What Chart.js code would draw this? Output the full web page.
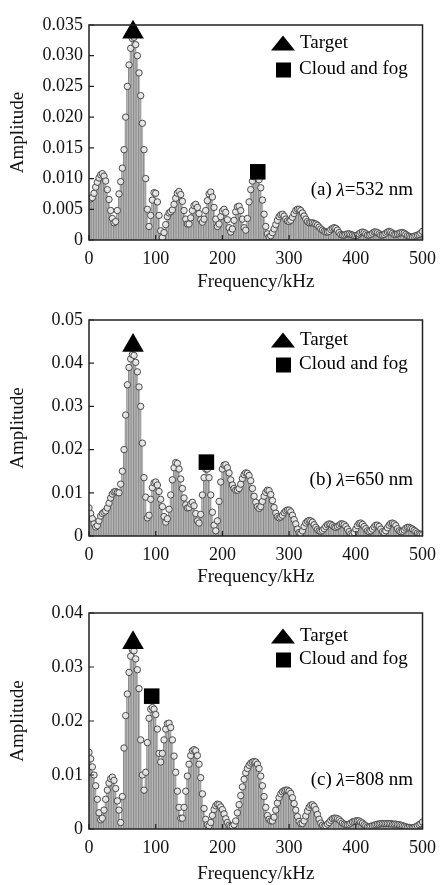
<!DOCTYPE html>
<html>
<head>
<meta charset="utf-8">
<script src="https://cdn.jsdelivr.net/npm/chart.js@4.4.1/dist/chart.umd.min.js"></script>
<style>
  html, body { margin: 0; padding: 0; background: #fff; }
  .panel { position: absolute; left: 0; width: 444px; height: 295px; }
</style>
</head>
<body>
<div class="panel" style="top:0"><canvas id="chartA" width="444" height="295"></canvas></div>
<div class="panel" style="top:295px"><canvas id="chartB" width="444" height="295"></canvas></div>
<div class="panel" style="top:590px"><canvas id="chartC" width="444" height="295"></canvas></div>
<script>
// frequency bins (kHz), one row = 50 kHz
const freqKHz = [
  0,2.5,5,7.5,10,12.5,15,17.5,20,22.5,25,27.5,30,32.5,35,37.5,40,42.5,45,47.5,
  50,52.5,55,57.5,60,62.5,65,67.5,70,72.5,75,77.5,80,82.5,85,87.5,90,92.5,95,97.5,
  100,102.5,105,107.5,110,112.5,115,117.5,120,122.5,125,127.5,130,132.5,135,137.5,140,142.5,145,147.5,
  150,152.5,155,157.5,160,162.5,165,167.5,170,172.5,175,177.5,180,182.5,185,187.5,190,192.5,195,197.5,
  200,202.5,205,207.5,210,212.5,215,217.5,220,222.5,225,227.5,230,232.5,235,237.5,240,242.5,245,247.5,
  250,252.5,255,257.5,260,262.5,265,267.5,270,272.5,275,277.5,280,282.5,285,287.5,290,292.5,295,297.5,
  300,302.5,305,307.5,310,312.5,315,317.5,320,322.5,325,327.5,330,332.5,335,337.5,340,342.5,345,347.5,
  350,352.5,355,357.5,360,362.5,365,367.5,370,372.5,375,377.5,380,382.5,385,387.5,390,392.5,395,397.5,
  400,402.5,405,407.5,410,412.5,415,417.5,420,422.5,425,427.5,430,432.5,435,437.5,440,442.5,445,447.5,
  450,452.5,455,457.5,460,462.5,465,467.5,470,472.5,475,477.5,480,482.5,485,487.5,490,492.5,495,497.5,
  500];

// (a) 532 nm
const ampA = [
  0.0068,0.0067,0.0069,0.0076,0.0086,0.0094,0.0101,0.0106,0.0108,0.0104,0.0096,0.0082,0.0066,0.0048,0.0035,0.0028,0.0030,0.0048,0.0075,0.0095,
  0.0117,0.0147,0.0200,0.0250,0.0285,0.0312,0.0328,0.0330,0.0318,0.0300,0.0272,0.0235,0.0190,0.0147,0.0100,0.0050,0.0022,0.0040,0.0065,0.0077,
  0.0076,0.0062,0.0040,0.0015,0.0004,0.0012,0.0025,0.0038,0.0044,0.0046,0.0049,0.0058,0.0068,0.0076,0.0079,0.0074,0.0063,0.0048,0.0034,0.0026,
  0.0026,0.0036,0.0048,0.0056,0.0058,0.0053,0.0043,0.0033,0.0029,0.0034,0.0048,0.0064,0.0075,0.0078,0.0070,0.0053,0.0034,0.0022,0.0026,0.0038,
  0.0047,0.0050,0.0045,0.0033,0.0020,0.0013,0.0018,0.0032,0.0046,0.0054,0.0055,0.0048,0.0034,0.0020,0.0016,0.0035,0.0062,0.0082,0.0096,0.0103,
  0.0105,0.0104,0.0098,0.0085,0.0065,0.0042,0.0022,0.0010,0.0005,0.0007,0.0012,0.0018,0.0025,0.0032,0.0038,0.0041,0.0042,0.0039,0.0034,0.0031,
  0.0030,0.0032,0.0037,0.0043,0.0048,0.0050,0.0050,0.0048,0.0044,0.0039,0.0034,0.0030,0.0028,0.0028,0.0028,0.0027,0.0026,0.0024,0.0021,0.0018,
  0.0016,0.0014,0.0013,0.0013,0.0014,0.0017,0.0019,0.0020,0.0019,0.0016,0.0012,0.0009,0.0008,0.0008,0.0009,0.0010,0.0010,0.0009,0.0008,0.0007,
  0.0007,0.0008,0.0010,0.0012,0.0013,0.0012,0.0010,0.0008,0.0008,0.0009,0.0011,0.0013,0.0013,0.0012,0.0010,0.0008,0.0008,0.0009,0.0011,0.0013,
  0.0014,0.0013,0.0011,0.0009,0.0009,0.0010,0.0011,0.0012,0.0012,0.0011,0.0009,0.0007,0.0006,0.0005,0.0005,0.0006,0.0007,0.0008,0.0009,0.0011,
  0.0014];

// (b) 650 nm
const ampB = [
  0.0065,0.0052,0.0040,0.0028,0.0021,0.0024,0.0035,0.0046,0.0052,0.0055,0.0058,0.0065,0.0076,0.0088,0.0097,0.0102,0.0103,0.0101,0.0100,0.0120,
  0.0150,0.0200,0.0280,0.0350,0.0390,0.0410,0.0420,0.0418,0.0402,0.0380,0.0345,0.0300,0.0215,0.0135,0.0090,0.0042,0.0048,0.0085,0.0112,0.0123,
  0.0125,0.0118,0.0103,0.0085,0.0068,0.0045,0.0032,0.0040,0.0062,0.0095,0.0130,0.0158,0.0170,0.0168,0.0155,0.0132,0.0110,0.0088,0.0072,0.0065,
  0.0066,0.0074,0.0078,0.0070,0.0052,0.0035,0.0030,0.0050,0.0095,0.0135,0.0155,0.0155,0.0135,0.0095,0.0055,0.0025,0.0012,0.0035,0.0080,0.0125,
  0.0155,0.0164,0.0165,0.0158,0.0146,0.0130,0.0118,0.0110,0.0106,0.0106,0.0110,0.0120,0.0133,0.0142,0.0146,0.0145,0.0140,0.0128,0.0110,0.0092,
  0.0078,0.0068,0.0064,0.0068,0.0080,0.0092,0.0101,0.0106,0.0105,0.0096,0.0082,0.0066,0.0053,0.0045,0.0042,0.0044,0.0048,0.0054,0.0058,0.0060,
  0.0060,0.0056,0.0048,0.0038,0.0028,0.0016,0.0008,0.0006,0.0012,0.0022,0.0030,0.0034,0.0036,0.0035,0.0032,0.0026,0.0020,0.0015,0.0012,0.0011,
  0.0013,0.0017,0.0022,0.0026,0.0028,0.0027,0.0024,0.0021,0.0020,0.0022,0.0025,0.0028,0.0028,0.0026,0.0022,0.0016,0.0010,0.0005,0.0003,0.0008,
  0.0016,0.0024,0.0029,0.0030,0.0027,0.0022,0.0017,0.0012,0.0010,0.0012,0.0016,0.0021,0.0025,0.0025,0.0022,0.0016,0.0010,0.0008,0.0012,0.0019,
  0.0025,0.0029,0.0030,0.0028,0.0024,0.0017,0.0012,0.0010,0.0011,0.0014,0.0018,0.0020,0.0020,0.0018,0.0016,0.0013,0.0010,0.0007,0.0005,0.0004,
  0.0003];

// (c) 808 nm
const ampC = [
  0.0142,0.0130,0.0115,0.0100,0.0080,0.0055,0.0030,0.0017,0.0020,0.0035,0.0055,0.0072,0.0085,0.0093,0.0096,0.0090,0.0075,0.0052,0.0035,0.0012,
  0.0060,0.0150,0.0210,0.0250,0.0290,0.0320,0.0332,0.0330,0.0315,0.0295,0.0260,0.0165,0.0100,0.0072,0.0105,0.0160,0.0205,0.0222,0.0225,0.0222,
  0.0212,0.0185,0.0140,0.0124,0.0140,0.0165,0.0185,0.0195,0.0196,0.0188,0.0165,0.0135,0.0105,0.0070,0.0040,0.0020,0.0020,0.0040,0.0070,0.0098,
  0.0120,0.0136,0.0145,0.0147,0.0145,0.0136,0.0120,0.0095,0.0065,0.0038,0.0018,0.0008,0.0006,0.0012,0.0025,0.0036,0.0043,0.0046,0.0045,0.0041,
  0.0036,0.0028,0.0019,0.0012,0.0007,0.0005,0.0005,0.0008,0.0015,0.0030,0.0045,0.0062,0.0078,0.0092,0.0104,0.0112,0.0118,0.0122,0.0124,0.0125,
  0.0124,0.0120,0.0112,0.0098,0.0080,0.0060,0.0040,0.0025,0.0018,0.0015,0.0015,0.0022,0.0035,0.0048,0.0058,0.0065,0.0069,0.0071,0.0072,0.0072,
  0.0070,0.0066,0.0058,0.0047,0.0035,0.0023,0.0014,0.0010,0.0010,0.0015,0.0024,0.0033,0.0040,0.0044,0.0045,0.0042,0.0036,0.0027,0.0018,0.0011,
  0.0007,0.0005,0.0006,0.0009,0.0012,0.0016,0.0019,0.0020,0.0020,0.0019,0.0017,0.0014,0.0011,0.0009,0.0008,0.0008,0.0009,0.0011,0.0013,0.0014,
  0.0015,0.0015,0.0015,0.0013,0.0011,0.0008,0.0006,0.0004,0.0004,0.0005,0.0006,0.0007,0.0008,0.0009,0.0009,0.0010,0.0010,0.0010,0.0010,0.0010,
  0.0010,0.0010,0.0009,0.0009,0.0009,0.0008,0.0008,0.0007,0.0006,0.0005,0.0004,0.0003,0.0003,0.0002,0.0002,0.0003,0.0004,0.0006,0.0008,0.0010,
  0.0013];

// marked peaks: target (triangle) and cloud/fog (square)
const targetFreq = [66, 66, 66];
const targetAmp = [0.0338, 0.0441, 0.0345];
const cloudFreq = [253, 176, 94];
const cloudAmp = [0.0111, 0.0171, 0.0246];

// y axis ranges / tick labels
const yMax = [0.035, 0.05, 0.04];
const yStep = [0.005, 0.01, 0.01];
const yDigits = [3, 2, 2];

const panelTags = ['(a)', '(b)', '(c)'];
const wavelengths = ['532', '650', '808'];
const legendNames = ['Target', 'Cloud and fog'];

const FONT = '"Liberation Serif", "Times New Roman", serif';

// frame, inward ticks, legend and panel note
const decorPlugin = {
  id: 'decor',
  afterDatasetsDraw(chart) {
    const { ctx, chartArea: a, scales: { x, y } } = chart;
    ctx.save();
    ctx.strokeStyle = '#222';
    ctx.lineWidth = 1.5;
    ctx.strokeRect(a.left, a.top, a.right - a.left, a.bottom - a.top);
    ctx.beginPath();
    ctx.lineWidth = 1.2;
    y.ticks.forEach(t => {
      const py = y.getPixelForValue(t.value);
      ctx.moveTo(a.left, py); ctx.lineTo(a.left + 5, py);
    });
    x.ticks.forEach(t => {
      const px = x.getPixelForValue(t.value);
      ctx.moveTo(px, a.bottom); ctx.lineTo(px, a.bottom - 5);
    });
    ctx.stroke();
    ctx.restore();
  },
  afterDraw(chart, args, opts) {
    const { ctx, chartArea: a } = chart;
    ctx.save();
    ctx.fillStyle = '#000';
    // legend
    const ty = a.top + opts.legendDy[0];
    const cy = a.top + opts.legendDy[1];
    ctx.beginPath();
    ctx.moveTo(283, ty - 8);
    ctx.lineTo(295, ty + 7);
    ctx.lineTo(271, ty + 7);
    ctx.closePath();
    ctx.fill();
    ctx.fillRect(276, cy - 7, 15, 15);
    ctx.font = '19px ' + FONT;
    ctx.textBaseline = 'middle';
    ctx.textAlign = 'left';
    ctx.fillText(legendNames[0], 300, ty);
    ctx.fillText(legendNames[1], 299, cy);
    // note "(a) λ=532 nm", right aligned
    const ny = a.bottom + opts.noteDy;
    const p1 = opts.tag + ' ';
    const p3 = '=' + opts.wl + ' nm';
    ctx.font = '19px ' + FONT;
    const w1 = ctx.measureText(p1).width;
    const w3 = ctx.measureText(p3).width;
    ctx.font = 'italic 19px ' + FONT;
    const w2 = ctx.measureText('λ').width;
    const sx = 413 - (w1 + w2 + w3);
    ctx.font = '19px ' + FONT;
    ctx.fillText(p1, sx, ny);
    ctx.font = 'italic 19px ' + FONT;
    ctx.fillText('λ', sx + w1, ny);
    ctx.font = '19px ' + FONT;
    ctx.fillText(p3, sx + w1 + w2, ny);
    ctx.restore();
  }
};

// per panel layout
const padTop = [25, 25, 23];
const xAxisHeight = [55, 54, 56];
const xTitlePad = [2, 2, 0];
const legendDy = [[18.5, 44.5], [20.5, 44.5], [23.5, 46.5]];
const noteDy = [-49.5, -55.5, -48.5];

function makeChart(id, i, amps) {
  const pts = freqKHz.map((f, k) => ({ x: f, y: amps[k] }));
  return new Chart(document.getElementById(id), {
    type: 'bar',
    data: {
      datasets: [
        {
          type: 'line',
          data: [{ x: targetFreq[i], y: targetAmp[i] }],
          showLine: false,
          pointStyle: 'triangle',
          pointRadius: 12.5,
          pointBackgroundColor: '#000',
          pointBorderWidth: 0,
          clip: false,
          order: 1
        },
        {
          type: 'line',
          data: [{ x: cloudFreq[i], y: cloudAmp[i] }],
          showLine: false,
          pointStyle: 'rect',
          pointRadius: 11,
          pointBackgroundColor: '#000',
          pointBorderWidth: 0,
          clip: false,
          order: 1
        },
        {
          type: 'line',
          data: pts,
          showLine: false,
          pointStyle: 'circle',
          pointRadius: 3.2,
          pointBackgroundColor: 'rgba(232,232,232,0.9)',
          pointBorderColor: '#4a4a4a',
          pointBorderWidth: 1,
          order: 2
        },
        {
          type: 'bar',
          data: pts,
          backgroundColor: '#b8b8b8',
          borderColor: '#787878',
          borderWidth: { left: 0.8, right: 0, top: 0, bottom: 0 },
          borderSkipped: false,
          barPercentage: 1,
          categoryPercentage: 1,
          order: 3
        }
      ]
    },
    options: {
      responsive: false,
      animation: false,
      events: [],
      layout: { padding: { top: padTop[i], right: 14, left: 0, bottom: 0 } },
      scales: {
        x: {
          type: 'linear',
          offset: false,
          min: 0,
          max: 500,
          ticks: {
            stepSize: 100,
            padding: 8,
            color: '#111',
            font: { family: FONT, size: 18 }
          },
          grid: { display: false, drawTicks: false },
          border: { display: false },
          title: {
            display: true,
            text: 'Frequency/kHz',
            color: '#111',
            font: { family: FONT, size: 19 },
            padding: { top: 0, bottom: xTitlePad[i] }
          },
          afterFit(scale) { scale.height = xAxisHeight[i]; }
        },
        y: {
          min: 0,
          max: yMax[i],
          ticks: {
            stepSize: yStep[i],
            padding: 6,
            color: '#111',
            font: { family: FONT, size: 18 },
            callback: v => Math.abs(v) < 1e-9 ? '0' : v.toFixed(yDigits[i])
          },
          grid: { display: false, drawTicks: false },
          border: { display: false },
          title: {
            display: true,
            text: 'Amplitude',
            color: '#111',
            font: { family: FONT, size: 19 },
            padding: { top: 7, bottom: 0 }
          },
          afterFit(scale) { scale.width = 89; }
        }
      },
      plugins: {
        legend: { display: false },
        tooltip: { enabled: false },
        decor: { tag: panelTags[i], wl: wavelengths[i], legendDy: legendDy[i], noteDy: noteDy[i] }
      }
    },
    plugins: [decorPlugin]
  });
}

makeChart('chartA', 0, ampA);
makeChart('chartB', 1, ampB);
makeChart('chartC', 2, ampC);
</script>
</body>
</html>
